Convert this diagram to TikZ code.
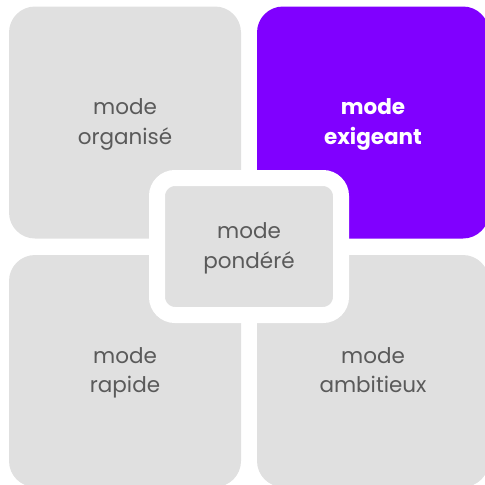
\documentclass[tikz,border=0pt]{standalone}
\usepackage{fontspec}
\setmainfont{Poppins}
\usetikzlibrary{positioning}
\definecolor{tilegray}{HTML}{E0E0E0}
\definecolor{textgray}{HTML}{5A5A5A}
\definecolor{modepurple}{HTML}{8000FF}

\begin{document}
\begin{tikzpicture}[x=1pt, y=-1pt,
            every node/.style={align=center, inner sep=0pt,
                text height=43pt, text depth=0pt,
                font=\fontsize{21.5}{29.5}\selectfont},
            tile/.style={fill=tilegray, text=textgray, rounded corners=26pt,
                minimum width=232pt, minimum height=232pt},
            hot/.style={tile, fill=modepurple, text=white, font=\fontsize{21.5}{29.5}\selectfont\bfseries},
            hub/.style={fill=tilegray, text=textgray, draw=white, line width=16pt,
                rounded corners=18pt, minimum width=184pt, minimum height=137pt}]
        \useasboundingbox (0,0) rectangle (485,485);
        \node[tile] (organise) at (125,122.5) {mode\\organisé};
        \node[hot]  (exigeant) at (373,122.5) {mode\\exigeant};
        \node[tile] (rapide)   at (125,371) {mode\\rapide};
        \node[tile] (ambitieux) at (373,371) {mode\\ambitieux};
        \node[hub]  (pondere)  at (249,246.5) {mode\\pondéré};
\end{tikzpicture}
\end{document}
